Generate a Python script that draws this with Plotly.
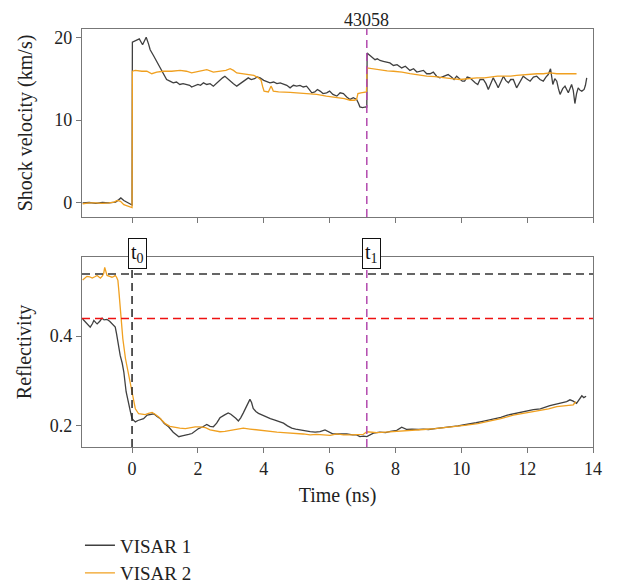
import plotly.graph_objects as go

# ---------------- data ----------------
v1_t = [-1.5, -1.3, -1.1, -0.9, -0.7, -0.5, -0.4, -0.34, -0.25, -0.15, -0.05, 0.0, 0.01, 0.1, 0.22, 0.32, 0.43, 0.5,
        0.55, 0.65, 0.75, 0.82, 0.9, 0.97, 1.05, 1.15, 1.25, 1.35, 1.45, 1.55, 1.66, 1.75, 1.81, 1.9, 2.0, 2.08,
        2.17, 2.27, 2.37, 2.47, 2.57, 2.67, 2.75, 2.82, 2.9, 2.98, 3.08, 3.18, 3.28, 3.38, 3.45, 3.53, 3.62, 3.72,
        3.8, 3.89, 4.0, 4.1, 4.19, 4.3, 4.4, 4.5, 4.6, 4.7, 4.8, 4.9, 5.0, 5.1, 5.2, 5.3, 5.38, 5.46, 5.55, 5.63,
        5.71, 5.8, 5.91, 6.0, 6.1, 6.22, 6.32, 6.42, 6.52, 6.62, 6.72, 6.82, 6.88, 6.92, 7.0, 7.1, 7.13, 7.14,
        7.2, 7.3, 7.38, 7.45, 7.53, 7.63, 7.73, 7.83, 7.94, 8.05, 8.19, 8.3, 8.44, 8.55, 8.65, 8.75, 8.85, 8.95,
        9.05, 9.15, 9.25, 9.35, 9.45, 9.6, 9.7, 9.78, 9.86, 9.95, 10.03, 10.1, 10.18, 10.26, 10.35, 10.42, 10.5,
        10.57, 10.67, 10.75, 10.82, 10.9, 10.97, 11.05, 11.12, 11.2, 11.28, 11.35, 11.43, 11.5, 11.58, 11.68,
        11.78, 11.88, 11.98, 12.09, 12.19, 12.29, 12.39, 12.49, 12.57, 12.64, 12.71, 12.78, 12.84, 12.9, 12.95,
        13.0, 13.08, 13.15, 13.25, 13.35, 13.4, 13.45, 13.5, 13.55, 13.61, 13.66, 13.73, 13.77, 13.81]
v1_v = [0.0, 0.05, -0.05, 0.05, 0.0, 0.1, 0.4, 0.6, 0.3, 0.1, -0.2, -0.25, 19.4, 19.6, 19.8, 19.1, 20.0, 19.2,
        18.5, 17.8, 17.1, 16.6, 15.9, 15.5, 14.9, 14.7, 14.5, 14.6, 14.3, 14.4, 14.3, 14.2, 14.0, 14.1, 14.3, 14.2,
        14.5, 14.3, 14.4, 14.1, 14.5, 14.9, 15.1, 15.3, 15.0, 14.7, 14.4, 14.1, 14.4, 14.7, 14.9, 15.1, 14.9, 15.0,
        15.2, 15.1, 14.8, 14.6, 14.5, 14.6, 14.4, 14.5, 14.3, 14.2, 13.9, 14.2, 14.1, 14.2, 14.0, 14.1, 13.7, 13.3,
        13.4, 13.7, 13.5, 13.2, 13.3, 13.5, 13.1, 12.9, 13.3, 13.2, 12.8, 12.5, 12.7, 12.5, 12.0, 11.6, 11.5, 11.6,
        11.5, 18.1, 17.9, 17.6, 17.3, 17.4, 17.2, 17.1, 17.0, 16.9, 16.6, 16.7, 16.3, 16.5, 16.0, 16.2, 15.8, 15.9,
        16.0, 15.6, 15.6, 15.8, 15.3, 15.1, 15.3, 15.5, 15.2, 14.9, 15.3, 15.0, 14.7, 14.7, 15.2, 15.1, 14.7, 14.5,
        14.3, 14.9, 14.9, 14.4, 13.7, 14.5, 15.1, 14.5, 13.9, 14.6, 15.3, 14.8, 14.5, 14.9, 14.9, 13.9, 14.6, 15.3,
        15.0, 14.7, 15.2, 15.3, 14.9, 14.7, 15.2, 15.5, 16.2, 14.3, 15.0, 14.7, 13.8, 13.1, 13.8, 14.1, 13.3, 14.3,
        13.6, 12.0, 13.2, 13.9, 13.6, 13.5, 13.7, 14.2, 15.1]

v2_t = [-1.5, -1.3, -1.1, -0.9, -0.7, -0.55, -0.45, -0.35, -0.25, -0.1, 0.0, 0.01, 0.1, 0.3, 0.45, 0.6, 0.75, 0.95,
        1.2, 1.46, 1.65, 1.81, 2.0, 2.27, 2.47, 2.7, 2.85, 2.98, 3.08, 3.18, 3.35, 3.53, 3.7, 3.84, 3.92, 3.97,
        4.01, 4.14, 4.19, 4.22, 4.26, 4.29, 4.45, 4.6, 4.8, 5.0, 5.3, 5.61, 5.9, 6.22, 6.45, 6.62, 6.75, 6.82,
        6.86, 6.95, 7.08, 7.12, 7.14, 7.3, 7.53, 7.75, 7.94, 8.2, 8.44, 8.7, 8.95, 9.2, 9.45, 9.7, 9.96, 10.2,
        10.47, 10.7, 10.87, 11.1, 11.28, 11.5, 11.68, 11.9, 12.09, 12.3, 12.49, 12.7, 12.9, 13.2, 13.5]
v2_v = [-0.1, 0.0, 0.0, -0.05, 0.0, 0.1, 0.3, 0.2, -0.2, -0.4, -0.55, 15.9, 16.0, 15.9, 15.9, 15.6, 15.8, 15.9,
        15.9, 16.0, 15.9, 15.7, 15.9, 16.1, 15.8, 15.9, 16.0, 16.2, 16.0, 15.7, 15.6, 15.5, 15.4, 15.1, 14.8, 14.0,
        13.5, 13.4, 13.8, 14.1, 13.8, 13.5, 13.4, 13.4, 13.35, 13.3, 13.2, 13.1, 12.9, 12.7, 12.6, 12.4, 12.4, 12.5,
        13.2, 13.3, 13.4, 13.4, 16.3, 16.2, 16.0, 15.95, 15.9, 15.8, 15.6, 15.4, 15.3, 15.25, 15.1, 15.0, 14.9, 15.0,
        15.1, 15.1, 15.2, 15.3, 15.3, 15.3, 15.4, 15.5, 15.5, 15.6, 15.6, 15.7, 15.6, 15.6, 15.6]

r1_t = [-1.5, -1.42, -1.37, -1.27, -1.2, -1.16, -1.1, -1.06, -0.98, -0.91, -0.85, -0.76, -0.68, -0.61, -0.55,
        -0.51, -0.47, -0.43, -0.36, -0.3, -0.25, -0.18, -0.1, -0.05, 0.0, 0.1, 0.18, 0.25, 0.35, 0.46, 0.56, 0.66,
        0.76, 0.86, 0.98, 1.11, 1.25, 1.42, 1.52, 1.62, 1.72, 1.82, 1.92, 2.02, 2.15, 2.27, 2.37, 2.47, 2.57, 2.67,
        2.8, 2.92, 3.0, 3.08, 3.15, 3.23, 3.3, 3.38, 3.46, 3.53, 3.58, 3.63, 3.68, 3.76, 3.84, 3.96, 4.09, 4.2,
        4.34, 4.47, 4.6, 4.72, 4.85, 4.97, 5.1, 5.25, 5.41, 5.56, 5.71, 5.86, 5.98, 6.11, 6.3, 6.52, 6.7, 6.82,
        6.92, 7.03, 7.13, 7.23, 7.33, 7.53, 7.7, 7.85, 8.04, 8.19, 8.35, 8.5, 8.7, 8.85, 9.0, 9.2, 9.35, 9.55,
        9.75, 9.9, 10.06, 10.25, 10.45, 10.65, 10.87, 11.05, 11.2, 11.4, 11.58, 11.75, 11.95, 12.19, 12.4, 12.55,
        12.69, 12.85, 13.05, 13.2, 13.3, 13.4, 13.5, 13.58, 13.66, 13.72, 13.79]
r1_v = [0.438, 0.432, 0.427, 0.420, 0.428, 0.435, 0.430, 0.427, 0.433, 0.440, 0.436, 0.437, 0.433, 0.427, 0.424,
        0.420, 0.405, 0.387, 0.357, 0.340, 0.320, 0.276, 0.253, 0.232, 0.216, 0.209, 0.212, 0.213, 0.216, 0.224,
        0.225, 0.227, 0.221, 0.216, 0.205, 0.198, 0.186, 0.176, 0.178, 0.179, 0.181, 0.183, 0.188, 0.194, 0.198,
        0.203, 0.199, 0.198, 0.206, 0.218, 0.224, 0.229, 0.226, 0.222, 0.217, 0.211, 0.218, 0.229, 0.240, 0.252,
        0.259, 0.252, 0.239, 0.232, 0.228, 0.224, 0.219, 0.216, 0.213, 0.210, 0.206, 0.200, 0.195, 0.193, 0.191,
        0.189, 0.187, 0.186, 0.187, 0.191, 0.186, 0.182, 0.182, 0.182, 0.180, 0.180, 0.176, 0.177, 0.176, 0.180,
        0.184, 0.186, 0.185, 0.188, 0.190, 0.197, 0.192, 0.193, 0.192, 0.193, 0.192, 0.194, 0.195, 0.196, 0.199,
        0.200, 0.202, 0.204, 0.207, 0.210, 0.213, 0.217, 0.219, 0.224, 0.227, 0.230, 0.232, 0.236, 0.238, 0.242,
        0.245, 0.248, 0.252, 0.254, 0.258, 0.255, 0.250, 0.258, 0.267, 0.263, 0.266]

r2_t = [-1.5, -1.47, -1.42, -1.37, -1.29, -1.21, -1.13, -1.06, -0.96, -0.9, -0.86, -0.83, -0.8, -0.76, -0.68,
        -0.61, -0.55, -0.51, -0.47, -0.43, -0.4, -0.36, -0.32, -0.28, -0.2, -0.1, 0.0, 0.05, 0.1, 0.2, 0.3, 0.4,
        0.5, 0.61, 0.7, 0.81, 0.9, 1.01, 1.15, 1.31, 1.45, 1.62, 1.77, 1.92, 2.06, 2.23, 2.37, 2.52, 2.67, 2.82,
        2.98, 3.18, 3.38, 3.58, 3.79, 3.98, 4.19, 4.4, 4.6, 4.8, 5.0, 5.2, 5.41, 5.6, 5.81, 6.02, 6.22, 6.42, 6.62,
        6.82, 7.02, 7.13, 7.3, 7.43, 7.7, 7.94, 8.2, 8.5, 8.85, 9.2, 9.5, 9.8, 10.1, 10.5, 10.87, 11.2, 11.58,
        11.9, 12.39, 12.65, 12.9, 13.15, 13.4, 13.48]
r2_v = [0.525, 0.527, 0.530, 0.533, 0.532, 0.529, 0.532, 0.535, 0.529, 0.534, 0.540, 0.553, 0.545, 0.535, 0.533,
        0.531, 0.533, 0.535, 0.531, 0.524, 0.500, 0.468, 0.430, 0.394, 0.350, 0.313, 0.276, 0.255, 0.238, 0.227,
        0.226, 0.225, 0.228, 0.230, 0.226, 0.220, 0.213, 0.205, 0.199, 0.196, 0.195, 0.194, 0.196, 0.198, 0.198,
        0.196, 0.191, 0.189, 0.187, 0.188, 0.190, 0.192, 0.195, 0.193, 0.191, 0.189, 0.187, 0.186, 0.185, 0.184,
        0.184, 0.182, 0.180, 0.181, 0.180, 0.179, 0.182, 0.180, 0.180, 0.181, 0.181, 0.187, 0.186, 0.185, 0.186,
        0.187, 0.189, 0.191, 0.192, 0.194, 0.196, 0.198, 0.201, 0.205, 0.210, 0.216, 0.224, 0.228, 0.234, 0.238,
        0.243, 0.245, 0.247, 0.254]

series_names = ["VISAR 1", "VISAR 2"]
shot_label = "43058"
t0 = 0.0
t1 = 7.13
r_level_hi = 0.538
r_level_lo = 0.439
x_ticks = [0, 2, 4, 6, 8, 10, 12, 14]
v_ticks = [0, 10, 20]
r_ticks = [0.2, 0.4]

# ---------------- styling ----------------
FONT = "Liberation Serif"
FS_TICK = 18
FS_TITLE = 20
FS_LEG = 19
C1 = "#404040"
C2 = "#F0A020"
PURPLE = "#B24AAE"
AX = "#777777"
TXT = "#222222"

fig = go.Figure()
fig.add_trace(go.Scatter(x=v1_t, y=v1_v, mode="lines", line=dict(color=C1, width=1.3),
                         name=series_names[0], legendgroup="a", showlegend=True, xaxis="x", yaxis="y"))
fig.add_trace(go.Scatter(x=v2_t, y=v2_v, mode="lines", line=dict(color=C2, width=1.3),
                         name=series_names[1], legendgroup="b", showlegend=True, xaxis="x", yaxis="y"))
fig.add_trace(go.Scatter(x=r1_t, y=r1_v, mode="lines", line=dict(color=C1, width=1.3),
                         name=series_names[0], legendgroup="a", showlegend=False, xaxis="x2", yaxis="y2"))
fig.add_trace(go.Scatter(x=r2_t, y=r2_v, mode="lines", line=dict(color=C2, width=1.3),
                         name=series_names[1], legendgroup="b", showlegend=False, xaxis="x2", yaxis="y2"))

axcommon = dict(showline=True, mirror=True, linecolor=AX, linewidth=1.3, ticks="outside", ticklen=5,
                tickcolor=AX, tickwidth=1.2, showgrid=False, zeroline=False, automargin=False,
                tickfont=dict(family=FONT, size=FS_TICK, color=TXT))

xr = [-1.52, 14.0]
fig.update_layout(
    width=622, height=586,
    margin=dict(l=74, r=37, t=21, b=147, autoexpand=False),
    paper_bgcolor="white", plot_bgcolor="white",
    font=dict(family=FONT, size=FS_TICK, color=TXT),
    xaxis=dict(axcommon, range=xr, tickvals=x_ticks, showticklabels=False, anchor="y"),
    yaxis=dict(axcommon, range=[-1.7, 21.0], tickvals=v_ticks, domain=[0.5502, 1.0], anchor="x",
               title=dict(text="Shock velocity (km/s)", font=dict(family=FONT, size=FS_TITLE, color=TXT),
                          standoff=16)),
    xaxis2=dict(axcommon, range=xr, tickvals=x_ticks, anchor="y2",
                title=dict(text="Time (ns)", font=dict(family=FONT, size=FS_TITLE, color=TXT), standoff=10)),
    yaxis2=dict(axcommon, range=[0.153, 0.576], tickvals=r_ticks, domain=[0.0, 0.4545], anchor="x2",
                title=dict(text="Reflectivity", font=dict(family=FONT, size=FS_TITLE, color=TXT), standoff=12)),
    legend=dict(x=-0.004, xanchor="left", y=-0.190, yanchor="top", orientation="v",
                font=dict(family=FONT, size=FS_LEG, color=TXT), bgcolor="rgba(0,0,0,0)",
                tracegroupgap=0, itemwidth=30),
    showlegend=True,
)

dash = "8px,5px"
fig.add_shape(type="line", xref="x", yref="y domain", x0=t1, x1=t1, y0=0, y1=1,
              line=dict(color=PURPLE, width=1.5, dash=dash))
fig.add_shape(type="line", xref="x2", yref="y2 domain", x0=t1, x1=t1, y0=0, y1=1,
              line=dict(color=PURPLE, width=1.5, dash=dash))
fig.add_shape(type="line", xref="x2", yref="y2 domain", x0=t0, x1=t0, y0=0, y1=1,
              line=dict(color="#222222", width=1.5, dash=dash))
fig.add_shape(type="line", xref="x2 domain", yref="y2", x0=0, x1=1, y0=r_level_hi, y1=r_level_hi,
              line=dict(color="#333333", width=1.5, dash=dash))
fig.add_shape(type="line", xref="x2 domain", yref="y2", x0=0, x1=1, y0=r_level_lo, y1=r_level_lo,
              line=dict(color="#EE1111", width=1.5, dash=dash))

# shot number above t1 (placed at the very top of the figure)
fig.add_annotation(x=t1, xref="x", y=1.0 + 21 / 418, yref="paper", yanchor="top", text=shot_label,
                   showarrow=False, font=dict(family=FONT, size=FS_TICK, color=TXT), yshift=0)
# t0 / t1 boxes
for tx, lab in [(t0, "t<sub>0</sub>"), (t1, "t<sub>1</sub>")]:
    fig.add_annotation(x=tx, xref="x2", y=1.0, yref="y2 domain", yanchor="middle", text=lab,
                       showarrow=False, font=dict(family=FONT, size=20, color="#111"),
                       bgcolor="white", bordercolor="#111", borderwidth=1, borderpad=2,
                       xshift=5, yshift=4)

fig.write_html("out.html")
